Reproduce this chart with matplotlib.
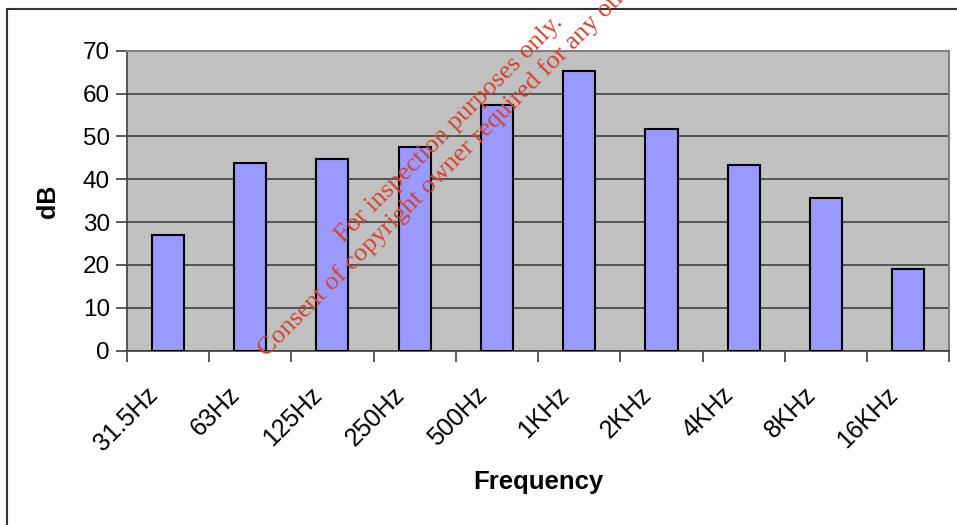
import matplotlib
matplotlib.use("Agg")
import matplotlib.pyplot as plt
from matplotlib.patches import Rectangle
from matplotlib.transforms import blended_transform_factory, ScaledTranslation

categories = ["31.5Hz", "63Hz", "125Hz", "250Hz", "500Hz", "1KHz", "2KHz", "4KHz", "8KHz", "16KHz"]
values = [27.1, 43.8, 44.7, 47.6, 57.3, 65.3, 51.8, 43.4, 35.6, 19.1]
yticks = [0, 10, 20, 30, 40, 50, 60, 70]

plt.rcParams["font.family"] = ["Liberation Sans", "DejaVu Sans"]

W, H = 957, 525
fig = plt.figure(figsize=(W / 100, H / 100), dpi=100)
fig.patch.set_facecolor("white")

# outer chart border
fig.patches.append(Rectangle((6.7 / W, -0.1), 2, 1 - 8.7 / H + 0.1, transform=fig.transFigure,
                             fill=False, edgecolor="#333333", linewidth=1.5, zorder=0))

left, right, top, bottom = 126.7, 949.5, 50.7, 350.7
ax = fig.add_axes([left / W, 1 - bottom / H, (right - left) / W, (bottom - top) / H])
ax.set_facecolor("#C0C0C0")

x = list(range(len(categories)))
ax.bar(x, values, width=0.39, color="#9999FF", edgecolor="black", linewidth=1.5, zorder=3)

ax.set_xlim(-0.5, len(categories) - 0.5)
ax.set_ylim(0, 70)
ax.set_yticks(yticks)
ax.set_yticklabels([str(t) for t in yticks])
ax.yaxis.grid(True, color="#404040", linewidth=1.2, zorder=1)
ax.set_axisbelow(True)

ax.set_xticks([i - 0.5 for i in range(len(categories) + 1)])
ax.set_xticklabels([""] * (len(categories) + 1))
ax.tick_params(axis="x", length=8, width=1.2, color="#404040", direction="out")
ax.tick_params(axis="y", length=8, width=1.2, color="#404040", direction="out", pad=4,
               labelsize=17.5)

# category labels (rotated, anchored at their right-end baseline)
trans = blended_transform_factory(ax.transData, ax.transAxes) + \
    ScaledTranslation(-9 / 100, -45 / 100, fig.dpi_scale_trans)
for i, lab in enumerate(categories):
    ax.text(i, 0, lab, transform=trans, rotation=45, rotation_mode="anchor",
            ha="right", va="baseline", fontsize=18)

for s in ["top", "right"]:
    ax.spines[s].set_color("#808080")
    ax.spines[s].set_linewidth(1.5)
ax.spines["left"].set_color("#404040")
ax.spines["left"].set_linewidth(1.2)
ax.spines["bottom"].set_color("#404040")
ax.spines["bottom"].set_linewidth(1.2)

fig.text(48 / W, 1 - 201 / H, "dB", rotation=90, ha="center", va="center",
         fontsize=18, fontweight="bold")
fig.text(538 / W, 1 - 482 / H, "Frequency", ha="center", va="center",
         fontsize=18.5, fontweight="bold")

fig.text(459 / W, 1 - 138 / H,
         "For inspection purposes only.\nConsent of copyright owner required for any other use.",
         rotation=45, rotation_mode="anchor", ha="center", va="center", multialignment="center",
         fontsize=19, family="Liberation Serif", color="#D2452F", linespacing=1.2, zorder=10)

fig.savefig("out.png", dpi=100)
